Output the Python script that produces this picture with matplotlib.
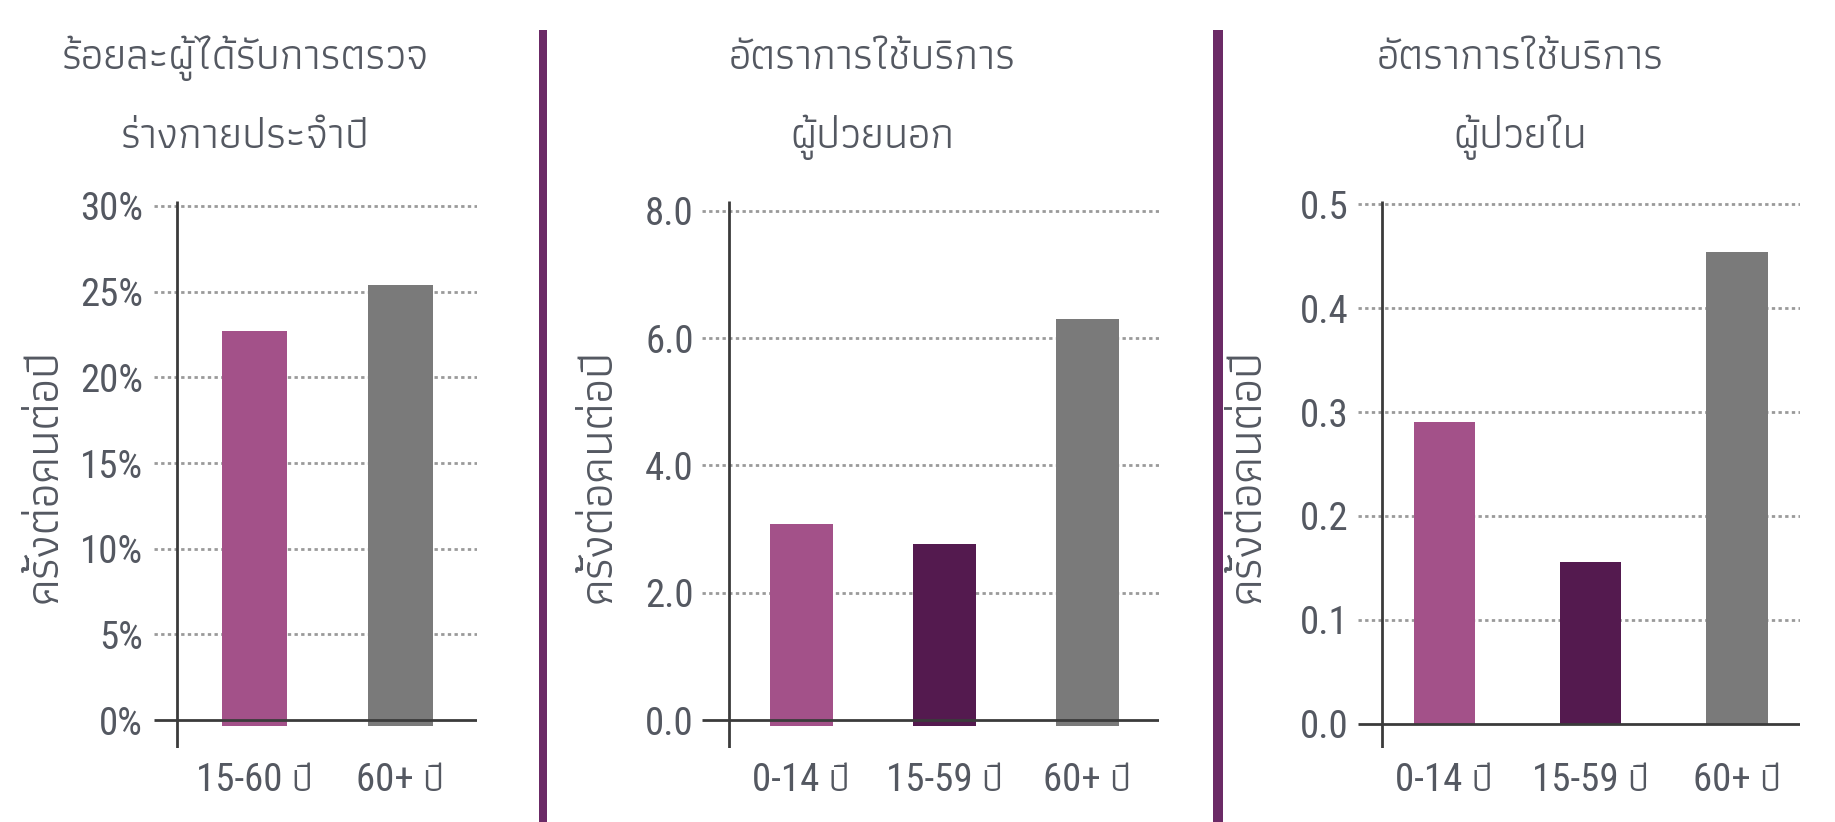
import matplotlib
matplotlib.use("Agg")
import matplotlib.pyplot as plt
from matplotlib.lines import Line2D
from matplotlib.patches import Rectangle
from matplotlib.ticker import FuncFormatter

# ---- data -------------------------------------------------------------
checkup_groups = ["15-60 ปี", "60+ ปี"]
checkup_pct = [22.7, 25.4]

opd_groups = ["0-14 ปี", "15-59 ปี", "60+ ปี"]
opd_rate = [3.08, 2.77, 6.31]

ipd_groups = ["0-14 ปี", "15-59 ปี", "60+ ปี"]
ipd_rate = [0.29, 0.156, 0.454]

titles = [
    ["ร้อยละผู้ได้รับการตรวจ", "ร่างกายประจำปี"],
    ["อัตราการใช้บริการ", "ผู้ป่วยนอก"],
    ["อัตราการใช้บริการ", "ผู้ป่วยใน"],
]
ylabel_text = "ครั้งต่อคนต่อปี"

checkup_ticks = [0, 5, 10, 15, 20, 25, 30]
opd_ticks = [0, 2, 4, 6, 8]
ipd_ticks = [0, 0.1, 0.2, 0.3, 0.4, 0.5]

# ---- style ------------------------------------------------------------
PINK = "#A35189"
PLUM = "#541A4F"
GREY = "#7A7A7A"
SEP = "#6B2A66"
AXIS = "#3B3B3B"
GRID = "#9A9A9A"
TXT = "#545861"
NUM_FONT = ["Roboto Condensed", "Athiti", "DejaVu Sans"]
THAI_FONT = ["Athiti", "DejaVu Sans"]

W, H = 1835, 822
fig = plt.figure(figsize=(W / 100, H / 100), dpi=100)


def px_axes(left, right, top, bottom):
    return fig.add_axes([left / W, 1 - bottom / H, (right - left) / W, (bottom - top) / H])


panels = [
    dict(box=(154, 477, 201, 748), groups=checkup_groups, vals=checkup_pct,
         colors=[PINK, GREY], ticks=checkup_ticks, ylim=(-1.63, 30.29),
         xlim=(-0.688, 1.524), width=0.445, base=-0.33, spine=0.0697,
         fmt=lambda v, p: f"{v:.0f}%", pad=8, title_x=245, ylab_x=45),
    dict(box=(702, 1159, 201, 748), groups=opd_groups, vals=opd_rate,
         colors=[PINK, PLUM, GREY], ticks=opd_ticks, ylim=(-0.44, 8.157),
         xlim=(-0.692, 2.50), width=0.44, base=-0.09, spine=0.059,
         fmt=lambda v, p: f"{v:.1f}", pad=6, title_x=872, ylab_x=599),
    dict(box=(1358, 1800, 201, 748), groups=ipd_groups, vals=ipd_rate,
         colors=[PINK, PLUM, GREY], ticks=ipd_ticks, ylim=(-0.0235, 0.5033),
         xlim=(-0.59, 2.43), width=0.42, base=0.0, spine=0.055,
         fmt=lambda v, p: f"{v:.1f}", pad=7, title_x=1520, ylab_x=1248),
]

for i, p in enumerate(panels):
    ax = px_axes(*p["box"])
    x = list(range(len(p["groups"])))
    heights = [v - p["base"] for v in p["vals"]]
    ax.bar(x, heights, bottom=p["base"], width=p["width"], color=p["colors"], zorder=2)

    ax.set_xlim(*p["xlim"])
    ax.set_ylim(*p["ylim"])
    ax.set_yticks(p["ticks"])
    ax.yaxis.set_major_formatter(FuncFormatter(p["fmt"]))
    ax.set_xticks(x)
    ax.set_xticklabels(p["groups"])

    for s in ax.spines.values():
        s.set_visible(False)
    ax.tick_params(axis="both", length=0, labelsize=28, labelcolor=TXT)
    ax.tick_params(axis="y", pad=p["pad"])
    ax.tick_params(axis="x", pad=10)
    for lab in ax.get_xticklabels() + ax.get_yticklabels():
        lab.set_family(NUM_FONT)

    # dotted gridlines (the zero line is drawn solid below)
    ax.set_axisbelow(True)
    for t in p["ticks"][1:]:
        ax.axhline(t, color=GRID, lw=2.0, linestyle=(0, (1.2, 1.2)), zorder=1)
    ax.axhline(0, color=AXIS, lw=2.0, zorder=3, solid_capstyle="butt")
    ax.add_line(Line2D([p["spine"], p["spine"]], [0, 1], transform=ax.transAxes,
                       color=AXIS, lw=2.0, zorder=3, solid_capstyle="butt"))

    # two-line panel title
    for k, line in enumerate(titles[i]):
        fig.text(p["title_x"] / W, 1 - (69 + 79 * k) / H, line, ha="center", va="baseline",
                 fontsize=31, color=TXT, family=THAI_FONT)
    # vertical axis label
    fig.text(p["ylab_x"] / W, 1 - 476 / H, ylabel_text, rotation=90, ha="center",
             va="center", fontsize=34, color=TXT, family=THAI_FONT)

# purple dividers between panels
for cx, w in ((543, 8), (1217.5, 10)):
    fig.add_artist(Rectangle(((cx - w / 2) / W, 0), w / W, 1 - 30 / H,
                             transform=fig.transFigure, color=SEP, lw=0))

fig.savefig("out.png", dpi=100, facecolor="white")
